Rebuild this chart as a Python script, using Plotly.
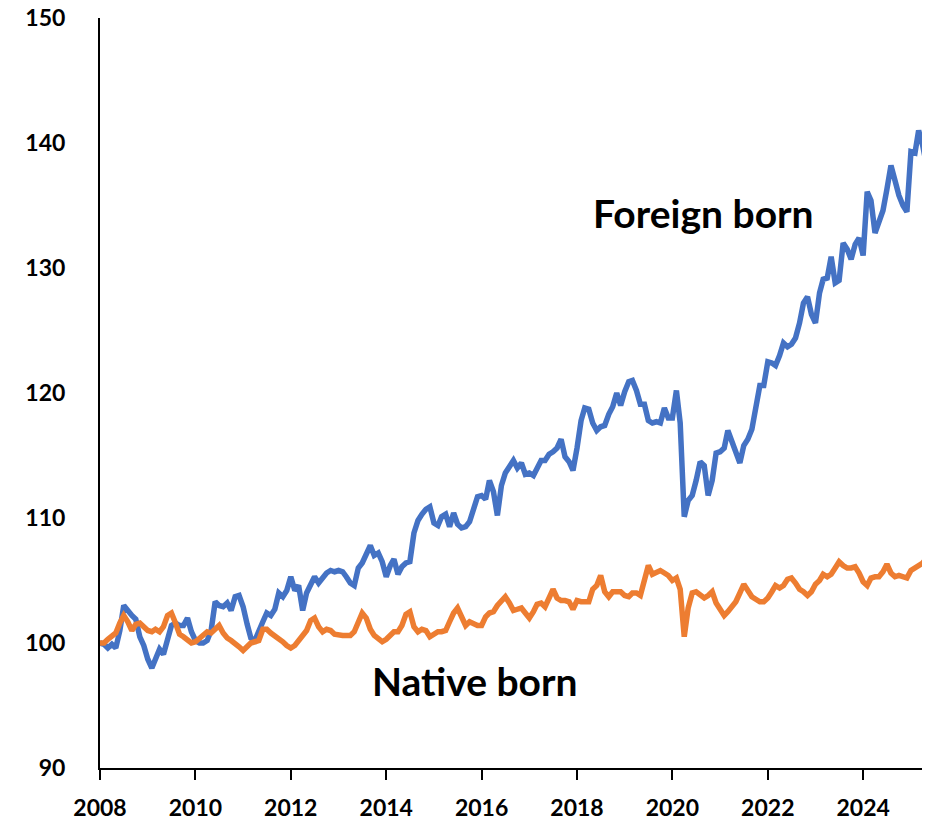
import pandas as pd
import plotly.graph_objects as go

# Monthly index values, Jan 2008 = 100
foreign_born = [
    100.0, 99.9, 99.6, 99.9, 99.6, 101.0, 103.0, 102.5, 102.2, 101.9, 100.5, 99.8,
    98.7, 98.0, 98.6, 99.5, 99.1, 100.2, 101.4, 101.6, 101.4, 101.4, 102.0, 100.9,
    100.2, 100.0, 100.0, 100.2, 101.0, 103.3, 103.0, 102.9, 103.2, 102.6, 103.7, 103.8,
    102.9, 101.5, 100.4, 100.2, 101.1, 101.7, 102.4, 102.2, 102.7, 104.0, 103.7, 104.2,
    105.3, 104.2, 104.6, 102.6, 104.0, 104.8, 105.3, 104.8, 105.2, 105.6, 105.8, 105.7,
    105.8, 105.7, 105.3, 104.8, 104.6, 106.0, 106.4, 107.0, 107.8, 107.0, 107.2, 106.5,
    105.3, 106.2, 106.7, 105.5, 106.1, 106.4, 106.5, 108.8, 109.8, 110.3, 110.7, 110.9,
    109.6, 109.4, 110.1, 110.3, 109.3, 110.4, 109.5, 109.2, 109.3, 109.7, 110.9, 111.7,
    111.8, 111.5, 113.0, 112.1, 110.2, 112.6, 113.6, 114.2, 114.6, 114.0, 114.4, 113.5,
    113.6, 113.4, 113.9, 114.6, 114.6, 115.1, 115.3, 115.6, 116.3, 114.9, 114.5, 113.8,
    115.6, 117.8, 118.8, 118.7, 117.6, 117.0, 117.3, 117.4, 118.3, 118.9, 120.0, 119.0,
    120.1, 120.9, 121.0, 120.2, 119.1, 119.1, 117.8, 117.6, 117.7, 117.6, 118.8, 118.0,
    118.0, 120.2, 117.6, 110.1, 111.4, 111.8, 113.0, 114.5, 114.2, 111.8, 113.0, 115.2,
    115.3, 115.6, 117.0, 116.1, 115.2, 114.4, 115.8, 116.3, 117.1, 118.7, 120.6, 120.6,
    122.5, 122.4, 122.2, 123.0, 124.0, 123.7, 123.9, 124.4, 125.6, 127.2, 127.7, 126.3,
    125.6, 128.0, 129.1, 129.2, 130.9, 128.8, 129.0, 132.0, 131.5, 130.7, 131.9, 132.4,
    131.0, 136.1, 135.4, 132.8, 133.6, 134.6, 136.3, 138.2, 137.0, 135.8, 135.0, 134.5,
    139.3, 139.2, 141.0, 139.8, 138.2,
]

native_born = [
    100.0, 100.0, 100.3, 100.5, 100.8, 101.6, 102.2, 101.7, 101.0, 101.5, 101.6, 101.3,
    101.0, 100.9, 101.1, 100.9, 101.3, 102.2, 102.4, 101.6, 100.7, 100.5, 100.3, 100.0,
    100.1, 100.4, 100.7, 100.9, 100.8, 101.1, 101.4, 100.8, 100.4, 100.2, 100.0, 99.7,
    99.4, 99.8, 100.0, 100.1, 100.2, 101.1, 101.1, 100.8, 100.6, 100.4, 100.1, 99.8,
    99.6, 99.8, 100.2, 100.5, 101.0, 101.8, 102.0, 101.3, 100.9, 101.1, 101.0, 100.7,
    100.6, 100.6, 100.6, 100.6, 100.9, 101.7, 102.4, 102.0, 101.1, 100.6, 100.4, 100.1,
    100.3, 100.7, 100.9, 100.9, 101.4, 102.3, 102.5, 101.3, 100.9, 101.1, 101.0, 100.5,
    100.7, 100.9, 100.9, 101.0, 101.7, 102.4, 102.8, 102.2, 101.4, 101.7, 101.5, 101.4,
    101.4, 102.1, 102.4, 102.5, 103.0, 103.3, 103.7, 103.2, 102.6, 102.7, 102.8, 102.4,
    102.0, 102.5, 103.1, 103.2, 102.9, 103.6, 104.3, 103.6, 103.4, 103.4, 103.3, 102.7,
    103.4, 103.3, 103.3, 103.3, 104.3, 104.6, 105.4, 104.1, 103.7, 104.1, 104.1, 104.1,
    103.8, 103.7, 104.0, 104.0, 103.8, 105.0, 106.2, 105.5, 105.6, 105.8, 105.6, 105.4,
    105.0, 105.2, 104.3, 100.5, 102.8, 104.0, 104.1, 103.9, 103.6, 103.8, 104.1, 103.2,
    102.7, 102.2, 102.5, 102.9, 103.3, 104.0, 104.7, 104.2, 103.7, 103.5, 103.3, 103.3,
    103.6, 104.1, 104.6, 104.4, 104.6, 105.1, 105.2, 104.8, 104.3, 104.1, 103.8, 104.1,
    104.7, 105.0, 105.5, 105.3, 105.5, 106.0, 106.5, 106.2, 106.0, 106.0, 106.1, 105.6,
    104.9, 104.6, 105.2, 105.3, 105.3, 105.7, 106.3, 105.6, 105.3, 105.4, 105.3, 105.2,
    105.8, 106.0, 106.2, 106.4, 106.8,
]

dates = pd.date_range("2008-01-01", periods=len(foreign_born), freq="MS")

label_foreign = "Foreign born"
label_native = "Native born"

FONT = "Lato, 'Open Sans', Arial, sans-serif"

fig = go.Figure()
fig.add_trace(go.Scatter(x=dates, y=foreign_born, mode="lines", name=label_foreign,
                         line=dict(color="#4472C4", width=5.5), cliponaxis=False))
fig.add_trace(go.Scatter(x=dates, y=native_born, mode="lines", name=label_native,
                         line=dict(color="#ED7D31", width=5.5), cliponaxis=False))

fig.add_annotation(x="2020-08-29", y=134.4, xref="x", yref="y", text=label_foreign,
                   showarrow=False, xanchor="center", yanchor="middle",
                   font=dict(family=FONT, size=39, color="black", weight="bold"))
fig.add_annotation(x="2015-11-10", y=97.0, xref="x", yref="y", text=label_native,
                   showarrow=False, xanchor="center", yanchor="middle",
                   font=dict(family=FONT, size=39, color="black", weight="bold"))

# The page body has an 8px margin, so the figure is 8px smaller than the window
fig.update_layout(
    width=922, height=814,
    margin=dict(l=92, r=0, t=10, b=54, autoexpand=False),
    paper_bgcolor="white", plot_bgcolor="white",
    showlegend=False,
    font=dict(family=FONT, color="black"),
)
fig.update_xaxes(
    type="date", range=["2008-01-01", "2025-05-27"], automargin=False,
    tick0="2008-01-01", dtick="M24", tickformat="%Y",
    ticks="outside", ticklen=10, tickwidth=2, tickcolor="black",
    showline=True, linewidth=2, linecolor="black",
    showgrid=False, zeroline=False, ticklabeloverflow="allow",
    tickfont=dict(family=FONT, size=23, color="black", weight="bold"),
    ticklabelstandoff=8,
)
fig.update_yaxes(
    range=[90, 150], dtick=10, tick0=90, automargin=False,
    ticks="", showline=True, linewidth=2, linecolor="black",
    showgrid=False, zeroline=False, ticklabeloverflow="allow",
    tickfont=dict(family=FONT, size=23, color="black", weight="bold"),
    ticklabelstandoff=28,
)

fig.write_html("out.html")
